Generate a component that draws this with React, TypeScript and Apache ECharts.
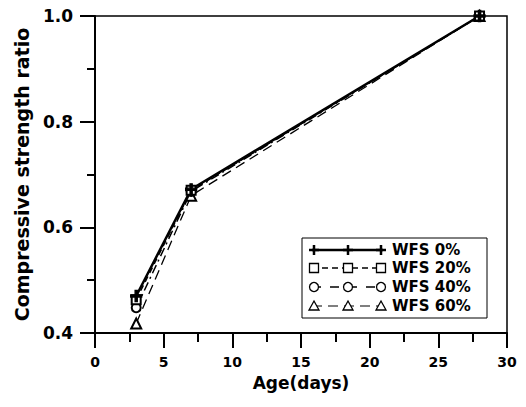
import React, { useEffect, useRef } from "react";
import * as echarts from "echarts";

const ages = [3, 7, 28];
const wfs0 = [0.47, 0.672, 1.0];
const wfs20 = [0.463, 0.67, 1.0];
const wfs40 = [0.448, 0.668, 1.0];
const wfs60 = [0.418, 0.66, 1.0];
const seriesNames = ["WFS 0%", "WFS 20%", "WFS 40%", "WFS 60%"];

const FONT = "'DejaVu Sans', 'Liberation Sans', Arial, sans-serif";
const PLUS = "path://M4,0 H6 V4 H10 V6 H6 V10 H4 V6 H0 V4 H4 Z";

function pairs(vals: number[]) {
  return ages.map((a, i) => [a, vals[i]]);
}

function legendMarker(kind: number, cx: number, cy: number): any {
  const st = { stroke: "#000", lineWidth: 1.3, fill: "#fff" };
  if (kind === 0) {
    return {
      type: "group",
      children: [
        { type: "line", shape: { x1: cx - 5, y1: cy, x2: cx + 5, y2: cy }, style: { stroke: "#000", lineWidth: 2.5 } },
        { type: "line", shape: { x1: cx, y1: cy - 5, x2: cx, y2: cy + 5 }, style: { stroke: "#000", lineWidth: 2.5 } },
      ],
    };
  }
  if (kind === 1) return { type: "rect", shape: { x: cx - 4.5, y: cy - 4.5, width: 9, height: 9 }, style: st };
  if (kind === 2) return { type: "circle", shape: { cx, cy, r: 4.5 }, style: st };
  return { type: "polygon", shape: { points: [[cx, cy - 5], [cx + 5, cy + 4], [cx - 5, cy + 4]] }, style: st };
}

export default function App() {
  const ref = useRef<HTMLDivElement>(null);
  useEffect(() => {
    if (!ref.current) return;
    const chart = echarts.init(ref.current, null, { renderer: "svg" });
    const rowsY = [250, 268, 287, 306];
    const dashes: any[] = [null, [6, 4], [9, 9], [10, 6]];
    const widths = [2.5, 1.5, 1.5, 1.2];
    const legendChildren: any[] = [
      { type: "rect", shape: { x: 302, y: 238, width: 185, height: 80 }, style: { fill: "#fff", stroke: "#000", lineWidth: 1 } },
    ];
    seriesNames.forEach((name, k) => {
      const y = rowsY[k];
      legendChildren.push({
        type: "line",
        shape: { x1: 312, y1: y, x2: 383, y2: y },
        style: { stroke: "#000", lineWidth: widths[k], lineDash: dashes[k] || undefined },
      });
      [314, 348, 381].forEach((x) => legendChildren.push(legendMarker(k, x, y)));
      legendChildren.push({
        type: "text",
        x: 392,
        y,
        style: { text: name, fill: "#000", font: `bold 15px ${FONT}`, verticalAlign: "middle", align: "left" },
      });
    });

    const mkSeries = (name: string, vals: number[], symbol: string, size: number, lineType: any, width: number) => ({
      name,
      type: "line",
      data: pairs(vals),
      symbol,
      symbolSize: size,
      lineStyle: { color: "#000", width, type: lineType },
      itemStyle: { color: "#000", borderColor: "#000", borderWidth: 1.3 },
      z: 3,
    });

    chart.setOption({
      animation: false,
      backgroundColor: "#fff",
      grid: { left: 95, right: 19, top: 16, bottom: 74, show: true, borderColor: "#000", borderWidth: 1.5, backgroundColor: "transparent" },
      xAxis: {
        type: "value",
        min: 0,
        max: 30,
        interval: 5,
        name: "Age(days)",
        nameLocation: "middle",
        nameGap: 41,
        nameTextStyle: { fontFamily: FONT, fontWeight: "bold", fontSize: 17, color: "#000" },
        axisLine: { show: true, onZero: false, lineStyle: { color: "#000", width: 2 } },
        axisTick: { show: true, length: 15, lineStyle: { color: "#000", width: 2 } },
        minorTick: { show: true, splitNumber: 2, length: 9, lineStyle: { color: "#000", width: 2 } },
        axisLabel: { margin: 22, fontFamily: FONT, fontWeight: "bold", fontSize: 14, color: "#000" },
        splitLine: { show: false },
      },
      yAxis: {
        type: "value",
        min: 0.4,
        max: 1.0,
        interval: 0.2,
        name: "Compressive strength ratio",
        nameLocation: "middle",
        nameGap: 62,
        nameTextStyle: { fontFamily: FONT, fontWeight: "bold", fontSize: 19, color: "#000" },
        axisLine: { show: true, onZero: false, lineStyle: { color: "#000", width: 2 } },
        axisTick: { show: true, length: 15, lineStyle: { color: "#000", width: 2 } },
        minorTick: { show: true, splitNumber: 2, length: 8, lineStyle: { color: "#000", width: 2 } },
        axisLabel: {
          margin: 22,
          fontFamily: FONT,
          fontWeight: "bold",
          fontSize: 17,
          color: "#000",
          formatter: (v: number) => v.toFixed(1),
        },
        splitLine: { show: false },
      },
      series: [
        mkSeries(seriesNames[3], wfs60, "emptyTriangle", 10, [10, 6], 1.3),
        mkSeries(seriesNames[2], wfs40, "emptyCircle", 9, [9, 4, 2, 4], 1.5),
        mkSeries(seriesNames[1], wfs20, "emptyRect", 9, [6, 4], 1.5),
        mkSeries(seriesNames[0], wfs0, PLUS, 11, "solid", 2.5),
      ],
      graphic: [{ type: "group", children: legendChildren, z: 100 }],
    });
    return () => chart.dispose();
  }, []);
  return <div ref={ref} style={{ position: "fixed", left: 0, top: 0, width: 526, height: 407 }} />;
}
